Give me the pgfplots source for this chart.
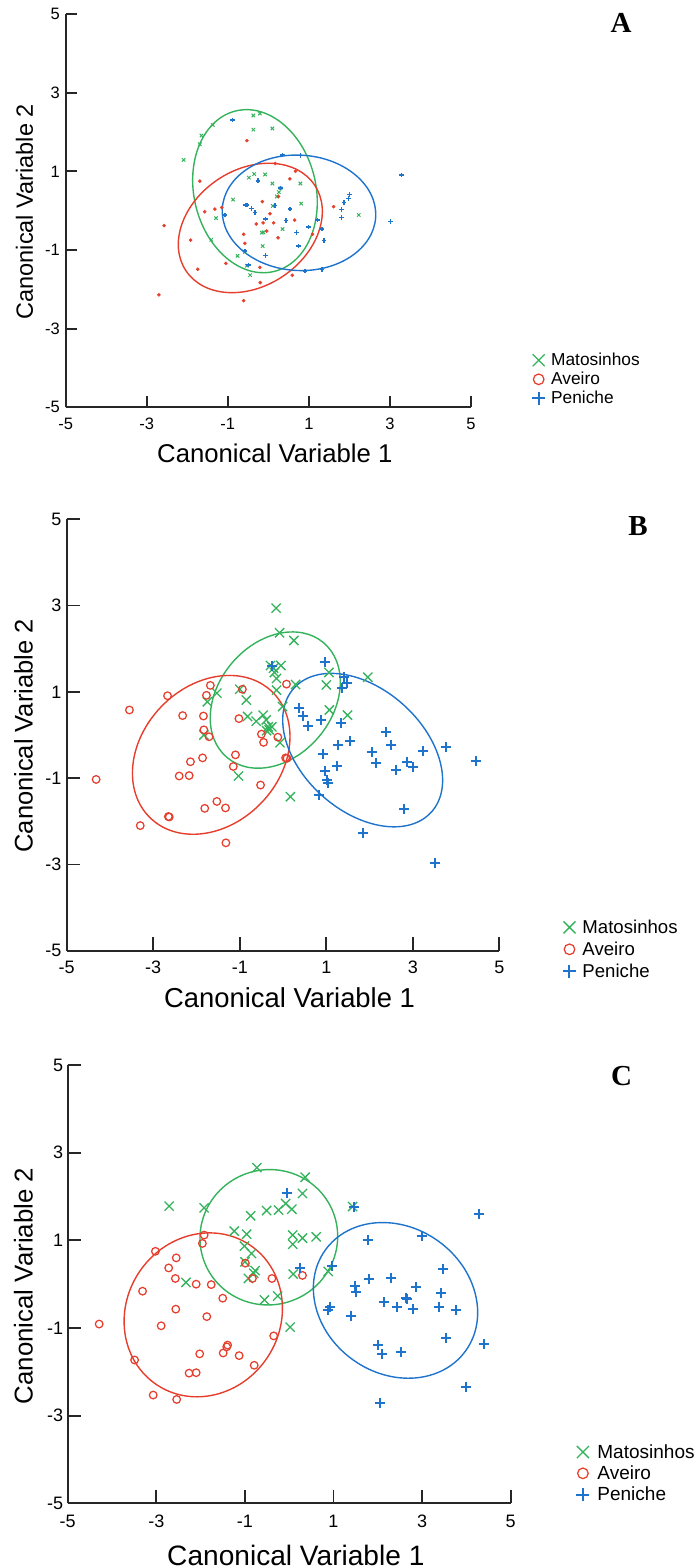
\documentclass[border=0pt]{standalone}
\usepackage{pgfplots}
\pgfplotsset{compat=1.18}
\usepackage{fontspec}
\setmainfont{Liberation Sans}
\newfontfamily\tnr{Liberation Serif}
\definecolor{cg}{RGB}{52,178,92}
\definecolor{cr}{RGB}{230,62,44}
\definecolor{cb}{RGB}{30,115,205}
\definecolor{axg}{RGB}{38,38,38}
\tikzset{ell/.style={line width=1.4pt}}
\pgfplotsset{
  cv/.style={scale only axis, xmin=-5, xmax=5, ymin=-5, ymax=5,
    axis lines=left, axis line style={-, line width=1.8pt, draw=axg},
    tick align=inside, tick style={line width=1.8pt, draw=axg},
    xtick={-5,-3,-1,1,3,5}, ytick={-5,-3,-1,1,3,5},
    xticklabels={-5,-3,-1,1,3,5}, yticklabels={-5,-3,-1,1,3,5},
    minor tick num=0,
    xlabel={Canonical Variable 1}, ylabel={Canonical Variable 2},
    legend cell align=left,
    legend image code/.code={\draw[#1] plot coordinates {(0pt,0pt)};},
    clip=false,
  },
  gmk/.style={only marks, mark=x, color=cg, mark options={draw=cg, solid, line width=1.3pt}},
  rmk/.style={only marks, mark=o, color=cr, mark options={draw=cr, solid, line width=1.25pt}},
  bmk/.style={only marks, mark=+, color=cb, mark options={draw=cb, solid, line width=2pt}},
}
\begin{document}
\begin{tikzpicture}[x=1pt,y=1pt]
\useasboundingbox (0pt,0pt) rectangle (698pt,-1568pt);
% ---------------- Panel A ----------------
\begin{axis}[cv, at={(65.7pt,-407.3pt)}, anchor=south west,
  width=405.3pt, height=393.3pt, major tick length=11.7pt,
  xticklabel style={font=\fontsize{16.5}{16.5}\selectfont, anchor=center, inner sep=0pt, yshift=-16.7pt},
  yticklabel style={font=\fontsize{16.5}{16.5}\selectfont, anchor=east, inner sep=0pt, xshift=-5.7pt},
  xlabel style={font=\fontsize{25.7}{26}\selectfont, at={(axis description cs:0.516,-0.1162)}, anchor=center},
  ylabel style={font=\fontsize{23.5}{24}\selectfont, at={(axis description cs:-0.1017,0.497)}, anchor=center, rotate=0},
  legend style={at={(axis description cs:1.1505,0.0712)}, anchor=west, draw=none, fill=none,
    inner sep=0pt, font=\fontsize{17.3}{17.3}\selectfont, row sep=5pt, column sep=6pt,
    nodes={inner sep=0pt}},
]
\addlegendimage{only marks, mark=x, color=cg, mark size=8.5pt, line width=1.3pt}
\addlegendentry{Matosinhos}
\addlegendimage{only marks, mark=o, color=cr, mark size=5.3pt, line width=1.25pt}
\addlegendentry{Aveiro}
\addlegendimage{only marks, mark=+, color=cb, mark size=6.5pt, line width=2pt}
\addlegendentry{Peniche}
\addplot[forget plot, only marks, mark=x, color=cg, mark size=2.4pt, mark options={line width=1pt}] coordinates {
(-2.09,1.29) (-1.69,1.69) (-1.65,1.91) (-1.37,2.18) (-0.37,2.42) (-0.21,2.47) (-0.37,2.06) (0.10,2.09)
(-0.35,0.93) (-0.48,0.84) (-0.08,0.92) (0.10,0.69) (0.79,0.69) (0.30,0.57) (0.26,0.47) (0.21,0.36)
(-0.87,0.28) (0.11,0.12) (0.81,0.18) (-1.29,-0.19) (2.23,-0.11) (0.35,-0.47) (-0.16,-0.56) (-0.12,-0.55)
(-1.41,-0.74) (-0.14,-0.90) (-0.76,-1.15) (-0.58,-1.05) (-0.53,-1.40) (-0.45,-1.64)};
\addplot[forget plot, only marks, mark=*, color=cr, mark size=1.6pt] coordinates {
(-0.53,1.78) (0.17,1.20) (-1.69,0.75) (0.53,0.81) (0.67,1.00) (-0.15,0.23) (0.25,0.36) (1.61,0.10)
(-1.57,-0.03) (-1.32,0.04) (-1.15,0.08) (0.04,-0.08) (-2.57,-0.38) (-0.30,-0.34) (-0.13,-0.31) (0.13,-0.31)
(0.65,-0.24) (-0.04,-0.52) (-1.92,-0.75) (-0.61,-0.60) (-0.58,-0.83) (0.24,-0.69) (1.09,-0.60)
(-1.05,-1.34) (-1.74,-1.49) (-0.21,-1.44) (0.59,-1.64) (-0.20,-1.83) (-2.70,-2.14) (-0.61,-2.29)};
\addplot[forget plot, only marks, mark=+, color=cb, mark size=2.3pt, mark options={line width=1.5pt}] coordinates {
(-0.88,2.30) (0.35,1.42) (0.79,1.40) (3.29,0.91) (-0.26,0.76) (0.30,0.58) (2.00,0.41) (1.98,0.31) (1.87,0.21)
(1.80,0.03) (1.80,-0.17) (-0.56,0.14) (-0.53,0.14) (-0.41,0.05) (-0.33,-0.05) (0.16,0.13) (0.53,0.04)
(-1.07,-0.11) (-0.07,-0.21) (0.44,-0.25) (1.21,-0.24) (1.32,-0.47) (0.99,-0.42) (0.69,-0.56) (1.37,-0.76)
(3.01,-0.28) (0.74,-0.90) (-0.07,-1.14) (-0.58,-1.03) (-0.49,-1.38) (0.90,-1.53) (1.32,-1.49)};
\draw[cg, ell, rotate around={13.2:(axis cs:-0.33,0.495)}] (axis cs:-0.33,0.495) ellipse [x radius=1.505, y radius=2.098];
\draw[cr, ell, rotate around={33.6:(axis cs:-0.445,-0.44)}] (axis cs:-0.445,-0.44) ellipse [x radius=1.907, y radius=1.482];
\draw[cb, ell, rotate around={-3:(axis cs:0.756,-0.055)}] (axis cs:0.756,-0.055) ellipse [x radius=1.895, y radius=1.467];
\end{axis}
% ---------------- Panel B ----------------
\begin{axis}[cv, at={(66.7pt,-950.7pt)}, anchor=south west,
  width=432.7pt, height=431.4pt, major tick length=13.3pt,
  xticklabel style={font=\fontsize{18}{18}\selectfont, anchor=center, inner sep=0pt, yshift=-16.8pt},
  yticklabel style={font=\fontsize{18}{18}\selectfont, anchor=east, inner sep=0pt, xshift=-5pt},
  xlabel style={font=\fontsize{27.4}{28}\selectfont, at={(axis description cs:0.515,-0.1096)}, anchor=center},
  ylabel style={font=\fontsize{25.5}{26}\selectfont, at={(axis description cs:-0.0998,0.498)}, anchor=center, rotate=0},
  legend style={at={(axis description cs:1.1465,0.0032)}, anchor=west, draw=none, fill=none,
    inner sep=0pt, font=\fontsize{18.6}{18.6}\selectfont, row sep=7pt, column sep=6.5pt,
    nodes={inner sep=0pt}},
]
\addlegendimage{only marks, mark=x, color=cg, mark size=8.5pt, line width=1.3pt}
\addlegendentry{Matosinhos}
\addlegendimage{only marks, mark=o, color=cr, mark size=5.3pt, line width=1.25pt}
\addlegendentry{Aveiro}
\addlegendimage{only marks, mark=+, color=cb, mark size=6.5pt, line width=2pt}
\addlegendentry{Peniche}
\addplot[forget plot, gmk, mark size=6.5pt] coordinates {
(-0.16,2.94) (-0.08,2.37) (0.25,2.19) (-0.29,1.61) (-0.22,1.55) (-0.05,1.61) (-0.15,1.31) (-0.15,1.04)
(0.29,1.17) (1.00,1.16) (1.06,1.45) (1.96,1.34) (1.49,0.46) (1.07,0.58) (-0.01,0.66) (-1.53,0.97)
(-1.75,0.77) (-1.00,1.06) (-0.85,0.81) (-0.82,0.43) (-0.62,0.32) (-0.46,0.46) (-0.39,0.35) (-0.34,0.19)
(-0.32,0.12) (-0.38,0.10) (-0.26,0.19) (-1.83,0.00) (-0.07,-0.18) (-1.03,-0.95) (0.17,-1.43) (-0.20,1.45)};
\addplot[forget plot, rmk, mark size=3.8pt] coordinates {
(-4.32,-1.03) (-3.55,0.58) (-2.67,0.91) (-2.32,0.45) (-1.68,1.15) (-1.77,0.92) (-1.84,0.44) (-1.83,0.12)
(-1.71,-0.04) (-0.94,1.06) (-1.02,0.38) (0.08,1.18) (-0.50,0.02) (-0.45,-0.17) (-0.12,-0.05) (0.06,-0.53)
(0.09,-0.54) (-1.10,-0.46) (-1.15,-0.73) (-1.86,-0.53) (-2.14,-0.62) (-2.40,-0.95) (-2.17,-0.94)
(-0.52,-1.16) (-1.81,-1.70) (-1.53,-1.54) (-1.33,-1.69) (-2.65,-1.89) (-2.63,-1.90) (-3.30,-2.10) (-1.32,-2.50)};
\addplot[forget plot, bmk, mark size=5pt] coordinates {
(0.97,1.70) (-0.26,1.61) (1.42,1.35) (1.47,1.20) (1.36,1.08) (0.38,0.62) (0.45,0.43) (0.57,0.22)
(0.88,0.35) (1.33,0.27) (1.55,-0.15) (1.28,-0.23) (0.93,-0.44) (1.24,-0.71) (0.96,-0.83) (1.02,-1.04)
(1.05,-1.11) (0.82,-1.39) (2.37,0.08) (2.50,-0.23) (2.06,-0.40) (2.15,-0.64) (2.60,-0.81) (2.86,-0.62)
(3.01,-0.73) (3.23,-0.36) (3.76,-0.27) (4.45,-0.60) (2.80,-1.72) (1.84,-2.28) (3.51,-2.96)};
\draw[cg, ell, rotate around={50:(axis cs:-0.18,0.81)}] (axis cs:-0.18,0.81) ellipse [x radius=1.733, y radius=1.321];
\draw[cr, ell, rotate around={46:(axis cs:-1.66,-0.46)}] (axis cs:-1.66,-0.46) ellipse [x radius=2.027, y radius=1.609];
\draw[cb, ell, rotate around={-42:(axis cs:1.84,-0.35)}] (axis cs:1.84,-0.35) ellipse [x radius=2.138, y radius=1.414];
\end{axis}
% ---------------- Panel C ----------------
\begin{axis}[cv, at={(67.7pt,-1503.3pt)}, anchor=south west,
  width=443pt, height=438.3pt, major tick length=13.3pt,
  xticklabel style={font=\fontsize{18}{18}\selectfont, anchor=center, inner sep=0pt, yshift=-18.4pt},
  yticklabel style={font=\fontsize{18}{18}\selectfont, anchor=east, inner sep=0pt, xshift=-4.4pt},
  xlabel style={font=\fontsize{28.1}{29}\selectfont, at={(axis description cs:0.515,-0.118)}, anchor=center},
  ylabel style={font=\fontsize{25.8}{26}\selectfont, at={(axis description cs:-0.0998,0.496)}, anchor=center, rotate=0},
  legend style={at={(axis description cs:1.1479,0.0684)}, anchor=west, draw=none, fill=none,
    inner sep=0pt, font=\fontsize{19}{19}\selectfont, row sep=6pt, column sep=8pt,
    nodes={inner sep=0pt}},
]
\addlegendimage{only marks, mark=x, color=cg, mark size=8.5pt, line width=1.3pt}
\addlegendentry{Matosinhos}
\addlegendimage{only marks, mark=o, color=cr, mark size=5.3pt, line width=1.25pt}
\addlegendentry{Aveiro}
\addlegendimage{only marks, mark=+, color=cb, mark size=6.5pt, line width=2pt}
\addlegendentry{Peniche}
\addplot[forget plot, gmk, mark size=6.5pt] coordinates {
(-0.73,2.66) (0.36,2.44) (-2.71,1.78) (-1.92,1.74) (0.30,2.07) (-0.51,1.68) (-0.24,1.69) (-0.08,1.84)
(0.06,1.71) (-0.87,1.56) (1.43,1.77) (-1.24,1.21) (-0.96,1.14) (-1.01,0.87) (-0.85,0.70) (-1.00,0.51)
(-0.77,0.31) (-0.80,0.25) (-0.92,0.13) (0.08,1.12) (0.08,0.91) (0.30,1.05) (0.61,1.08) (0.09,0.23)
(0.88,0.29) (-2.33,0.04) (-0.56,-0.36) (-0.26,-0.27) (0.02,-0.98)};
\addplot[forget plot, rmk, mark size=3.8pt] coordinates {
(-4.29,-0.91) (-3.02,0.75) (-2.55,0.60) (-2.72,0.37) (-2.57,0.13) (-3.31,-0.16) (-2.10,0.00) (-1.76,-0.01)
(-1.92,1.12) (-1.96,0.93) (-1.50,-0.32) (-0.99,0.48) (-0.83,0.13) (-0.39,0.13) (0.30,0.20) (-2.56,-0.57)
(-1.86,-0.74) (-2.89,-0.95) (-0.35,-1.18) (-3.49,-1.73) (-1.39,-1.39) (-1.41,-1.43) (-2.02,-1.59)
(-1.49,-1.57) (-1.13,-1.63) (-0.79,-1.85) (-2.26,-2.03) (-2.10,-2.02) (-3.07,-2.53) (-2.54,-2.63)};
\addplot[forget plot, bmk, mark size=5pt] coordinates {
(-0.04,2.09) (1.47,1.77) (4.28,1.60) (2.99,1.10) (1.77,1.01) (0.24,0.36) (0.96,0.41) (3.48,0.35)
(1.81,0.12) (2.30,0.14) (1.49,-0.04) (1.51,-0.19) (2.86,-0.07) (3.43,-0.21) (2.63,-0.32) (2.67,-0.34)
(2.14,-0.41) (2.43,-0.53) (2.80,-0.57) (3.39,-0.52) (3.77,-0.59) (0.91,-0.51) (0.88,-0.60) (1.40,-0.72)
(3.55,-1.22) (2.01,-1.39) (2.10,-1.59) (2.52,-1.55) (4.39,-1.37) (3.99,-2.35) (2.04,-2.72)};
\draw[cg, ell, rotate around={20:(axis cs:-0.46,1.07)}] (axis cs:-0.46,1.07) ellipse [x radius=1.558, y radius=1.540];
\draw[cr, ell, rotate around={56.7:(axis cs:-1.94,-0.70)}] (axis cs:-1.94,-0.70) ellipse [x radius=1.896, y radius=1.757];
\draw[cb, ell, rotate around={-35.5:(axis cs:2.40,-0.37)}] (axis cs:2.40,-0.37) ellipse [x radius=1.950, y radius=1.668];
\end{axis}
% panel letters
\node[font=\tnr\bfseries\fontsize{29}{29}\selectfont, anchor=center] at (621pt,-23pt) {A};
\node[font=\tnr\bfseries\fontsize{29}{29}\selectfont, anchor=center] at (638pt,-526pt) {B};
\node[font=\tnr\bfseries\fontsize{29}{29}\selectfont, anchor=center] at (621.7pt,-1076pt) {C};
\end{tikzpicture}
\end{document}
